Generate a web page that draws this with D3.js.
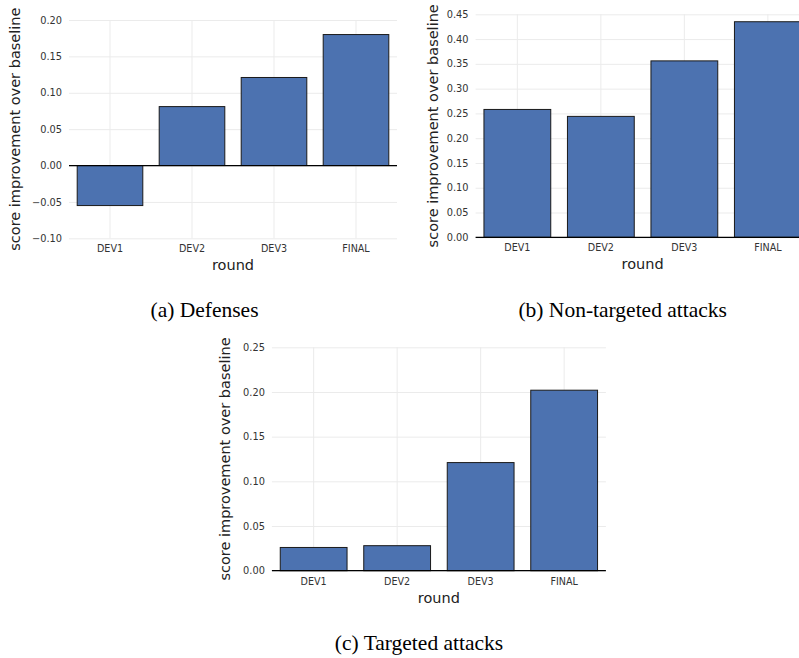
<!DOCTYPE html>
<html>
<head>
<meta charset="utf-8">
<script src="https://cdn.jsdelivr.net/npm/d3@7"></script>
<style>
  html, body { margin: 0; padding: 0; background: #fff; }
  svg { display: block; }
</style>
</head>
<body>
<svg id="chart" width="799" height="658"></svg>
<script>
// ---- data ----
const categories = ["DEV1", "DEV2", "DEV3", "FINAL"];
const defensesValues = [-0.055, 0.081, 0.121, 0.180];
const nonTargetedValues = [0.258, 0.244, 0.356, 0.435];
const targetedValues = [0.026, 0.028, 0.121, 0.202];
const ticksDefenses = [-0.10, -0.05, 0.00, 0.05, 0.10, 0.15, 0.20];
const ticksNonTargeted = [0.00, 0.05, 0.10, 0.15, 0.20, 0.25, 0.30, 0.35, 0.40, 0.45];
const ticksTargeted = [0.00, 0.05, 0.10, 0.15, 0.20, 0.25];
const captions = ["(a) Defenses", "(b) Non-targeted attacks", "(c) Targeted attacks"];
const xLabel = "round";
const yLabel = "score improvement over baseline";

// ---- layout ----
const panels = [
  { values: defensesValues, ticks: ticksDefenses, domain: [-0.10, 0.20],
    left: 69, right: 397, top: 20, bottom: 238.3, ylabX: 15,
    caption: captions[0], capX: 204.5, capY: 316.5 },
  { values: nonTargetedValues, ticks: ticksNonTargeted, domain: [0, 0.45],
    left: 475.6, right: 809.6, top: 14.3, bottom: 237.3, ylabX: 433.3,
    caption: captions[1], capX: 622.7, capY: 316.5 },
  { values: targetedValues, ticks: ticksTargeted, domain: [0, 0.25],
    left: 271.9, right: 605.9, top: 347.3, bottom: 570.7, ylabX: 225,
    caption: captions[2], capX: 419, capY: 650 }
];

const svg = d3.select("#chart");
const fmt = d3.format(".2f");
const sans = "'DejaVu Sans', sans-serif";

panels.forEach(p => {
  const g = svg.append("g");
  const x = d3.scaleBand().domain(categories).range([p.left, p.right])
    .paddingInner(0.2).paddingOuter(0.1);
  const y = d3.scaleLinear().domain(p.domain).range([p.bottom, p.top]);
  const w = p.right - p.left, h = p.bottom - p.top;

  // y axis + horizontal grid
  const ya = g.append("g").attr("transform", `translate(${p.left},0)`)
    .call(d3.axisLeft(y).tickValues(p.ticks).tickFormat(fmt).tickSize(-w).tickPadding(7));
  ya.select(".domain").remove();
  ya.selectAll(".tick line").attr("stroke", "#ebebeb").attr("stroke-width", 1);
  ya.selectAll(".tick text").attr("fill", "#333").style("font-family", sans).style("font-size", "9.8px");

  // x axis + vertical grid
  const xa = g.append("g").attr("transform", `translate(0,${p.bottom})`)
    .call(d3.axisBottom(x).tickSize(-h).tickPadding(7));
  xa.select(".domain").remove();
  xa.selectAll(".tick line").attr("stroke", "#ebebeb").attr("stroke-width", 1);
  xa.selectAll(".tick text").attr("fill", "#333").style("font-family", sans).style("font-size", "9.6px");

  // bars
  g.append("g").selectAll("rect").data(p.values).join("rect")
    .attr("x", (d, i) => x(categories[i]))
    .attr("width", x.bandwidth())
    .attr("y", d => y(Math.max(0, d)))
    .attr("height", d => Math.abs(y(d) - y(0)))
    .attr("fill", "#4c72b0")
    .attr("stroke", "#1a1a1a")
    .attr("stroke-width", 1);

  // zero line
  g.append("line")
    .attr("x1", p.left).attr("x2", p.right)
    .attr("y1", y(0)).attr("y2", y(0))
    .attr("stroke", "#000").attr("stroke-width", 1.2);

  // axis labels
  g.append("text")
    .attr("x", (p.left + p.right) / 2).attr("y", p.bottom + 32)
    .attr("text-anchor", "middle").attr("fill", "#222")
    .style("font-family", sans).style("font-size", "14.5px")
    .text(xLabel);
  g.append("text")
    .attr("transform", `translate(${p.ylabX + 5},${(p.top + p.bottom) / 2}) rotate(-90)`)
    .attr("text-anchor", "middle").attr("fill", "#222")
    .style("font-family", sans).style("font-size", "14.5px")
    .text(yLabel);

  // caption
  svg.append("text")
    .attr("x", p.capX).attr("y", p.capY)
    .attr("text-anchor", "middle").attr("fill", "#000")
    .style("font-family", "'Liberation Serif', 'Times New Roman', serif")
    .style("font-size", "21.5px")
    .text(p.caption);
});
</script>
</body>
</html>
